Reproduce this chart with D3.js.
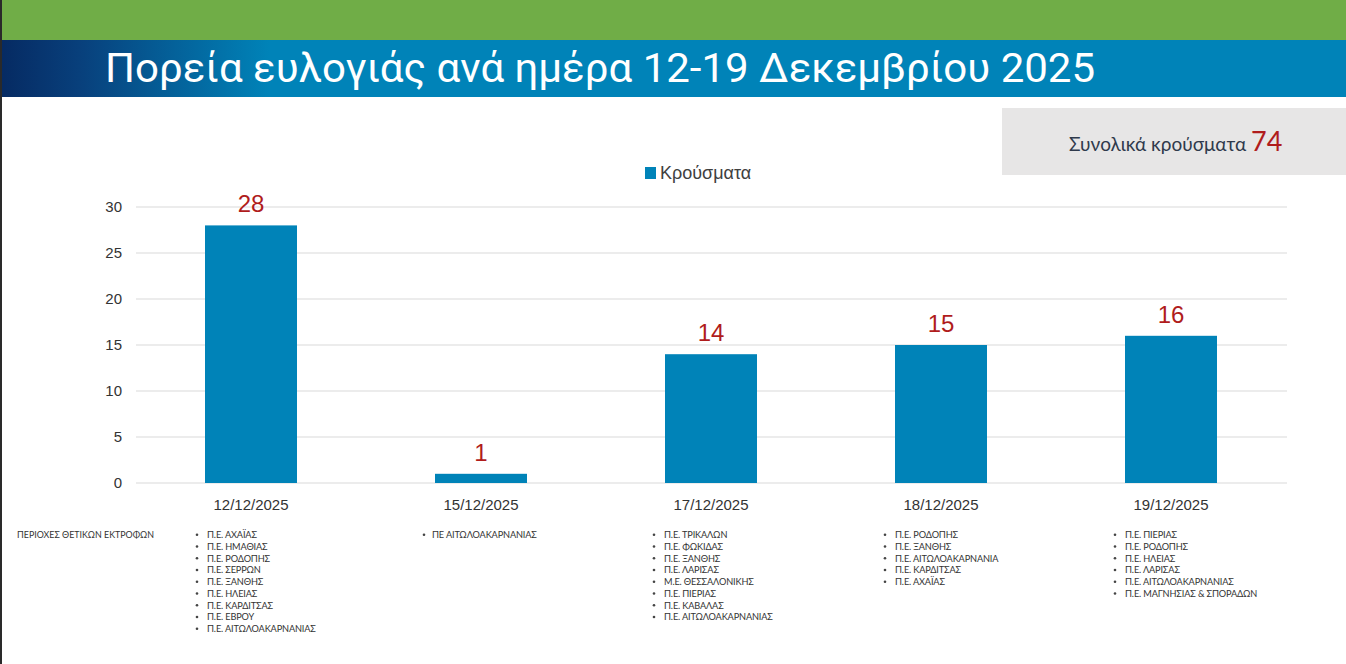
<!DOCTYPE html>
<html><head><meta charset="utf-8">
<script src="https://cdn.jsdelivr.net/npm/d3@7"></script>
<style>html,body{margin:0;padding:0;background:#fff;overflow:hidden}</style>
</head><body>
<script>
const title = "Πορεία ευλογιάς ανά ημέρα 12-19 Δεκεμβρίου 2025";
const categories = ["12/12/2025","15/12/2025","17/12/2025","18/12/2025","19/12/2025"];
const values = [28,1,14,15,16];
const yTicks = [0,5,10,15,20,25,30];
const seriesName = "Κρούσματα";
const totalLabel = "Συνολικά κρούσματα";
const totalValue = 74;
const regionsHeader = "ΠΕΡΙΟΧΕΣ ΘΕΤΙΚΩΝ ΕΚΤΡΟΦΩΝ";
const regions = [
  ["Π.Ε. ΑΧΑΪΑΣ","Π.Ε. ΗΜΑΘΙΑΣ","Π.Ε. ΡΟΔΟΠΗΣ","Π.Ε. ΣΕΡΡΩΝ","Π.Ε. ΞΑΝΘΗΣ","Π.Ε. ΗΛΕΙΑΣ","Π.Ε. ΚΑΡΔΙΤΣΑΣ","Π.Ε. ΕΒΡΟΥ","Π.Ε. ΑΙΤΩΛΟΑΚΑΡΝΑΝΙΑΣ"],
  ["ΠΕ ΑΙΤΩΛΟΑΚΑΡΝΑΝΙΑΣ"],
  ["Π.Ε. ΤΡΙΚΑΛΩΝ","Π.Ε. ΦΩΚΙΔΑΣ","Π.Ε. ΞΑΝΘΗΣ","Π.Ε. ΛΑΡΙΣΑΣ","Μ.Ε. ΘΕΣΣΑΛΟΝΙΚΗΣ","Π.Ε. ΠΙΕΡΙΑΣ","Π.Ε. ΚΑΒΑΛΑΣ","Π.Ε. ΑΙΤΩΛΟΑΚΑΡΝΑΝΙΑΣ"],
  ["Π.Ε. ΡΟΔΟΠΗΣ","Π.Ε. ΞΑΝΘΗΣ","Π.Ε. ΑΙΤΩΛΟΑΚΑΡΝΑΝΙΑ","Π.Ε. ΚΑΡΔΙΤΣΑΣ","Π.Ε. ΑΧΑΪΑΣ"],
  ["Π.Ε. ΠΙΕΡΙΑΣ","Π.Ε. ΡΟΔΟΠΗΣ","Π.Ε. ΗΛΕΙΑΣ","Π.Ε. ΛΑΡΙΣΑΣ","Π.Ε. ΑΙΤΩΛΟΑΚΑΡΝΑΝΙΑΣ","Π.Ε. ΜΑΓΝΗΣΙΑΣ & ΣΠΟΡΑΔΩΝ"]
];

const W = 1346, H = 664;
const svg = d3.select("body").append("svg").attr("width", W).attr("height", H);
const defs = svg.append("defs");
const grad = defs.append("linearGradient").attr("id","hdr").attr("x1","0").attr("x2","1").attr("y1","0").attr("y2","0");
grad.append("stop").attr("offset","0").attr("stop-color","#062a62");
grad.append("stop").attr("offset","0.06").attr("stop-color","#08407c");
grad.append("stop").attr("offset","0.2").attr("stop-color","#0083b8");
grad.append("stop").attr("offset","1").attr("stop-color","#0083b8");

svg.append("rect").attr("x",0).attr("y",0).attr("width",W).attr("height",40).attr("fill","#70ad47");
svg.append("rect").attr("x",0).attr("y",40).attr("width",W).attr("height",57).attr("fill","url(#hdr)");
svg.append("text").attr("x",105).attr("y",82).attr("fill","#fff")
  .style("font-family","Roboto, 'Open Sans', sans-serif").style("font-size","40px")
  .attr("textLength",990).attr("lengthAdjust","spacingAndGlyphs").text(title);

// Total box
svg.append("rect").attr("x",1002).attr("y",108).attr("width",344).attr("height",67).attr("fill","#e7e6e6");
const tt = svg.append("text").attr("x",1069).attr("y",151).style("font-family","Lato, 'Open Sans', sans-serif");
tt.append("tspan").attr("fill","#2f3a4c").style("font-size","19px").text(totalLabel + " ");
tt.append("tspan").attr("fill","#b01c1c").style("font-size","27px").text(totalValue);

// Chart
const x = d3.scaleBand().domain(categories).range([136,1286]).paddingInner(0.6).paddingOuter(0.3);
const y = d3.scaleLinear().domain([0,30]).range([483,207]);

const g = svg.append("g");
g.selectAll("line.grid").data(yTicks).join("line").attr("class","grid")
  .attr("x1",136).attr("x2",1287).attr("y1",d=>y(d)).attr("y2",d=>y(d))
  .attr("stroke","#d9d9d9").attr("stroke-width",1.2);

const yAxis = g.append("g").attr("transform","translate(122,0)")
  .call(d3.axisLeft(y).tickValues(yTicks).tickSize(0).tickPadding(0));
yAxis.select(".domain").remove();
yAxis.selectAll("text").attr("fill","#333").style("font-family","'Liberation Sans', Arial, sans-serif").style("font-size","15px");

const xAxis = g.append("g").attr("transform","translate(0,499)")
  .call(d3.axisBottom(x).tickSize(0).tickPadding(0));
xAxis.select(".domain").remove();
xAxis.selectAll("text").attr("fill","#333").attr("dy","0.71em").style("font-family","'Liberation Sans', Arial, sans-serif").style("font-size","15px");

g.selectAll("rect.bar").data(values).join("rect").attr("class","bar")
  .attr("x",(d,i)=>x(categories[i])).attr("width",x.bandwidth())
  .attr("y",d=>y(d)).attr("height",d=>y(0)-y(d)).attr("fill","#0083b8");

g.selectAll("text.val").data(values).join("text").attr("class","val")
  .attr("x",(d,i)=>x(categories[i])+x.bandwidth()/2).attr("y",d=>y(d)-13)
  .attr("text-anchor","middle").attr("fill","#b01c1c")
  .style("font-family","'Liberation Sans', Arial, sans-serif").style("font-size","24px").text(d=>d);

// Legend
svg.append("rect").attr("x",645).attr("y",167).attr("width",11).attr("height",12).attr("fill","#0083b8");
svg.append("text").attr("x",660).attr("y",179).attr("fill","#404040")
  .style("font-family","'Liberation Sans', Arial, sans-serif").style("font-size","18px").text(seriesName);

// Regions
const fontSmall = "Lato, 'Open Sans', sans-serif";
svg.append("text").attr("x",17).attr("y",538).attr("fill","#333").style("font-family",fontSmall).style("font-size","9px")
  .attr("textLength",137).attr("lengthAdjust","spacingAndGlyphs").text(regionsHeader);
const bulletX = [197,424,654,885,1115];
regions.forEach((list,ci)=>{
  const cg = svg.append("g");
  list.forEach((r,ri)=>{
    const yy = 538 + ri*11.75;
    cg.append("circle").attr("cx",bulletX[ci]).attr("cy",yy-3.2).attr("r",1.3).attr("fill","#444");
    cg.append("text").attr("x",bulletX[ci]+(ci===1?8:10)).attr("y",yy).attr("fill","#333")
      .style("font-family",fontSmall).style("font-size","9.2px").style("letter-spacing","-0.15px").text(r);
  });
});

// Left border
svg.append("rect").attr("x",0).attr("y",0).attr("width",2).attr("height",H).attr("fill","#2a2a2a");
</script>
</body></html>
